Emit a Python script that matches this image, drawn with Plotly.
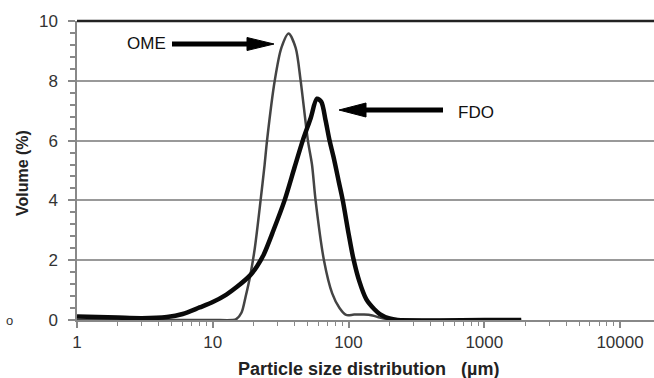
import plotly.graph_objects as go

# ---- data ----
ome_size = [1, 5, 10, 14, 14.9, 16.3, 17.5, 18.9, 20.4, 22.5, 24.1, 25.1, 28.6, 32, 36.2,
            40.8, 44.4, 50.2, 53.8, 57.2, 65.9, 75.8, 85.8, 96, 110, 130, 150, 170, 200,
            300, 1000, 1870]
ome_vol = [0, 0, 0, 0, 0.03, 0.25, 0.8, 1.5, 2.4, 4.0, 5.2, 6.0, 8.0, 9.1, 9.58,
           9.1, 8.0, 6.0, 5.2, 4.0, 2.0, 0.89, 0.4, 0.17, 0.18, 0.18, 0.15, 0.08, 0.02,
           0, 0, 0]

fdo_size = [1, 2, 3, 4.6, 6, 8, 10, 12.6, 15, 18.9, 21.2, 23.8, 28, 33.8, 40, 46, 52.6, 58.5,
            63, 67.8, 72.5, 78, 85, 90.7, 100, 108, 120, 135, 155, 170, 200, 230, 1000, 1870]
fdo_vol = [0.12, 0.08, 0.06, 0.1, 0.2, 0.42, 0.6, 0.85, 1.1, 1.5, 1.8, 2.2, 3.0, 4.0, 5.1, 6.0,
           6.75, 7.4, 7.3, 6.67, 6.0, 5.4, 4.6, 4.0, 2.9, 2.1, 1.3, 0.7, 0.36, 0.2, 0.05,
           0, 0, 0]

x_tickvals = [1, 10, 100, 1000, 10000]
x_ticktext = ["1", "10", "100", "1000", "10000"]
y_tickvals = [0, 2, 4, 6, 8, 10]
y_ticktext = ["0", "2", "4", "6", "8", "10"]

FONT = "Liberation Sans, Arial, sans-serif"

fig = go.Figure()
fig.add_trace(go.Scatter(x=ome_size, y=ome_vol, mode="lines", name="OME",
                         line=dict(color="#444444", width=2.5, shape="spline", smoothing=0.8)))
fig.add_trace(go.Scatter(x=fdo_size, y=fdo_vol, mode="lines", name="FDO",
                         line=dict(color="#0a0a0a", width=4.5, shape="spline", smoothing=0.8)))

W, H = 654, 378
L, R, T, B = 77, 0, 21, 58
pw, ph = W - L - R, H - T - B


def px(xp):
    return (xp - L) / pw


def py(yp):
    return (H - B - yp) / ph


shapes = [
    # top frame line
    dict(type="line", xref="paper", yref="paper", x0=0, x1=1, y0=1, y1=1,
         line=dict(color="#222222", width=2.5)),
    # OME arrow shaft + head
    dict(type="line", xref="paper", yref="paper", x0=px(172), x1=px(252), y0=py(44), y1=py(44),
         line=dict(color="#000000", width=5)),
    dict(type="path", xref="paper", yref="paper", xsizemode="pixel", ysizemode="pixel",
         xanchor=px(274), yanchor=py(44), path="M0,0 L-27,6.5 L-27,-6.5 Z",
         fillcolor="#000000", line=dict(color="#000000", width=1)),
    # FDO arrow shaft + head
    dict(type="line", xref="paper", yref="paper", x0=px(362), x1=px(443), y0=py(110), y1=py(110),
         line=dict(color="#000000", width=5)),
    dict(type="path", xref="paper", yref="paper", xsizemode="pixel", ysizemode="pixel",
         xanchor=px(339), yanchor=py(110), path="M0,0 L27,7 L27,-7 Z",
         fillcolor="#000000", line=dict(color="#000000", width=1)),
]

annotations = [
    dict(text="OME", xref="paper", yref="paper", x=px(168), y=py(44), xanchor="right",
         yanchor="middle", showarrow=False, font=dict(family=FONT, size=17, color="#111111")),
    dict(text="FDO", xref="paper", yref="paper", x=px(456), y=py(112), xanchor="left",
         yanchor="middle", showarrow=False, font=dict(family=FONT, size=17, color="#111111")),
    dict(text="<b>Particle size distribution\u00a0\u00a0\u00a0(µm)</b>", xref="paper", yref="paper",
         x=px(369), y=py(369), xanchor="center", yanchor="middle", showarrow=False,
         font=dict(family=FONT, size=18, color="#222222")),
    dict(text="<b>Volume (%)</b>", xref="paper", yref="paper", x=px(22), y=py(173),
         xanchor="center", yanchor="middle", textangle=-90, showarrow=False,
         font=dict(family=FONT, size=16, color="#222222")),
    dict(text="o", xref="paper", yref="paper", x=px(9), y=py(320), xanchor="center",
         yanchor="middle", showarrow=False, font=dict(family=FONT, size=13, color="#333333")),
]

fig.update_layout(
    width=W, height=H,
    margin=dict(l=L, r=R, t=T, b=B, pad=0, autoexpand=False),
    paper_bgcolor="white", plot_bgcolor="white",
    showlegend=False,
    shapes=shapes,
    annotations=annotations,
    font=dict(family=FONT, size=16, color="#333333"),
    xaxis=dict(type="log", range=[0, 4.25], tickvals=x_tickvals, ticktext=x_ticktext,
               automargin=False,
               showgrid=False, zeroline=False, showline=True, linecolor="#888888", linewidth=1.5,
               ticks="outside", ticklen=6, tickcolor="#888888", tickwidth=1.5,
               minor=dict(ticks="outside", ticklen=4, tickcolor="#888888", tickwidth=1.2,
                          dtick="D1", showgrid=False),
               tickfont=dict(family=FONT, size=17, color="#333333")),
    yaxis=dict(range=[0, 10], tickvals=y_tickvals, ticktext=y_ticktext,
               automargin=False, ticklabelstandoff=7,
               showgrid=True, gridcolor="#999999", gridwidth=1.5, zeroline=False,
               showline=True, linecolor="#888888", linewidth=1.5,
               ticks="outside", ticklen=7, tickcolor="#888888", tickwidth=1.5,
               minor=dict(ticks="outside", ticklen=5, tickcolor="#888888", dtick=0.4,
                          showgrid=False),
               tickfont=dict(family=FONT, size=17, color="#333333")),
)

fig.write_html("out.html", config={"displayModeBar": False},
               post_script="document.body.style.margin='0';document.body.style.overflow='hidden';")
